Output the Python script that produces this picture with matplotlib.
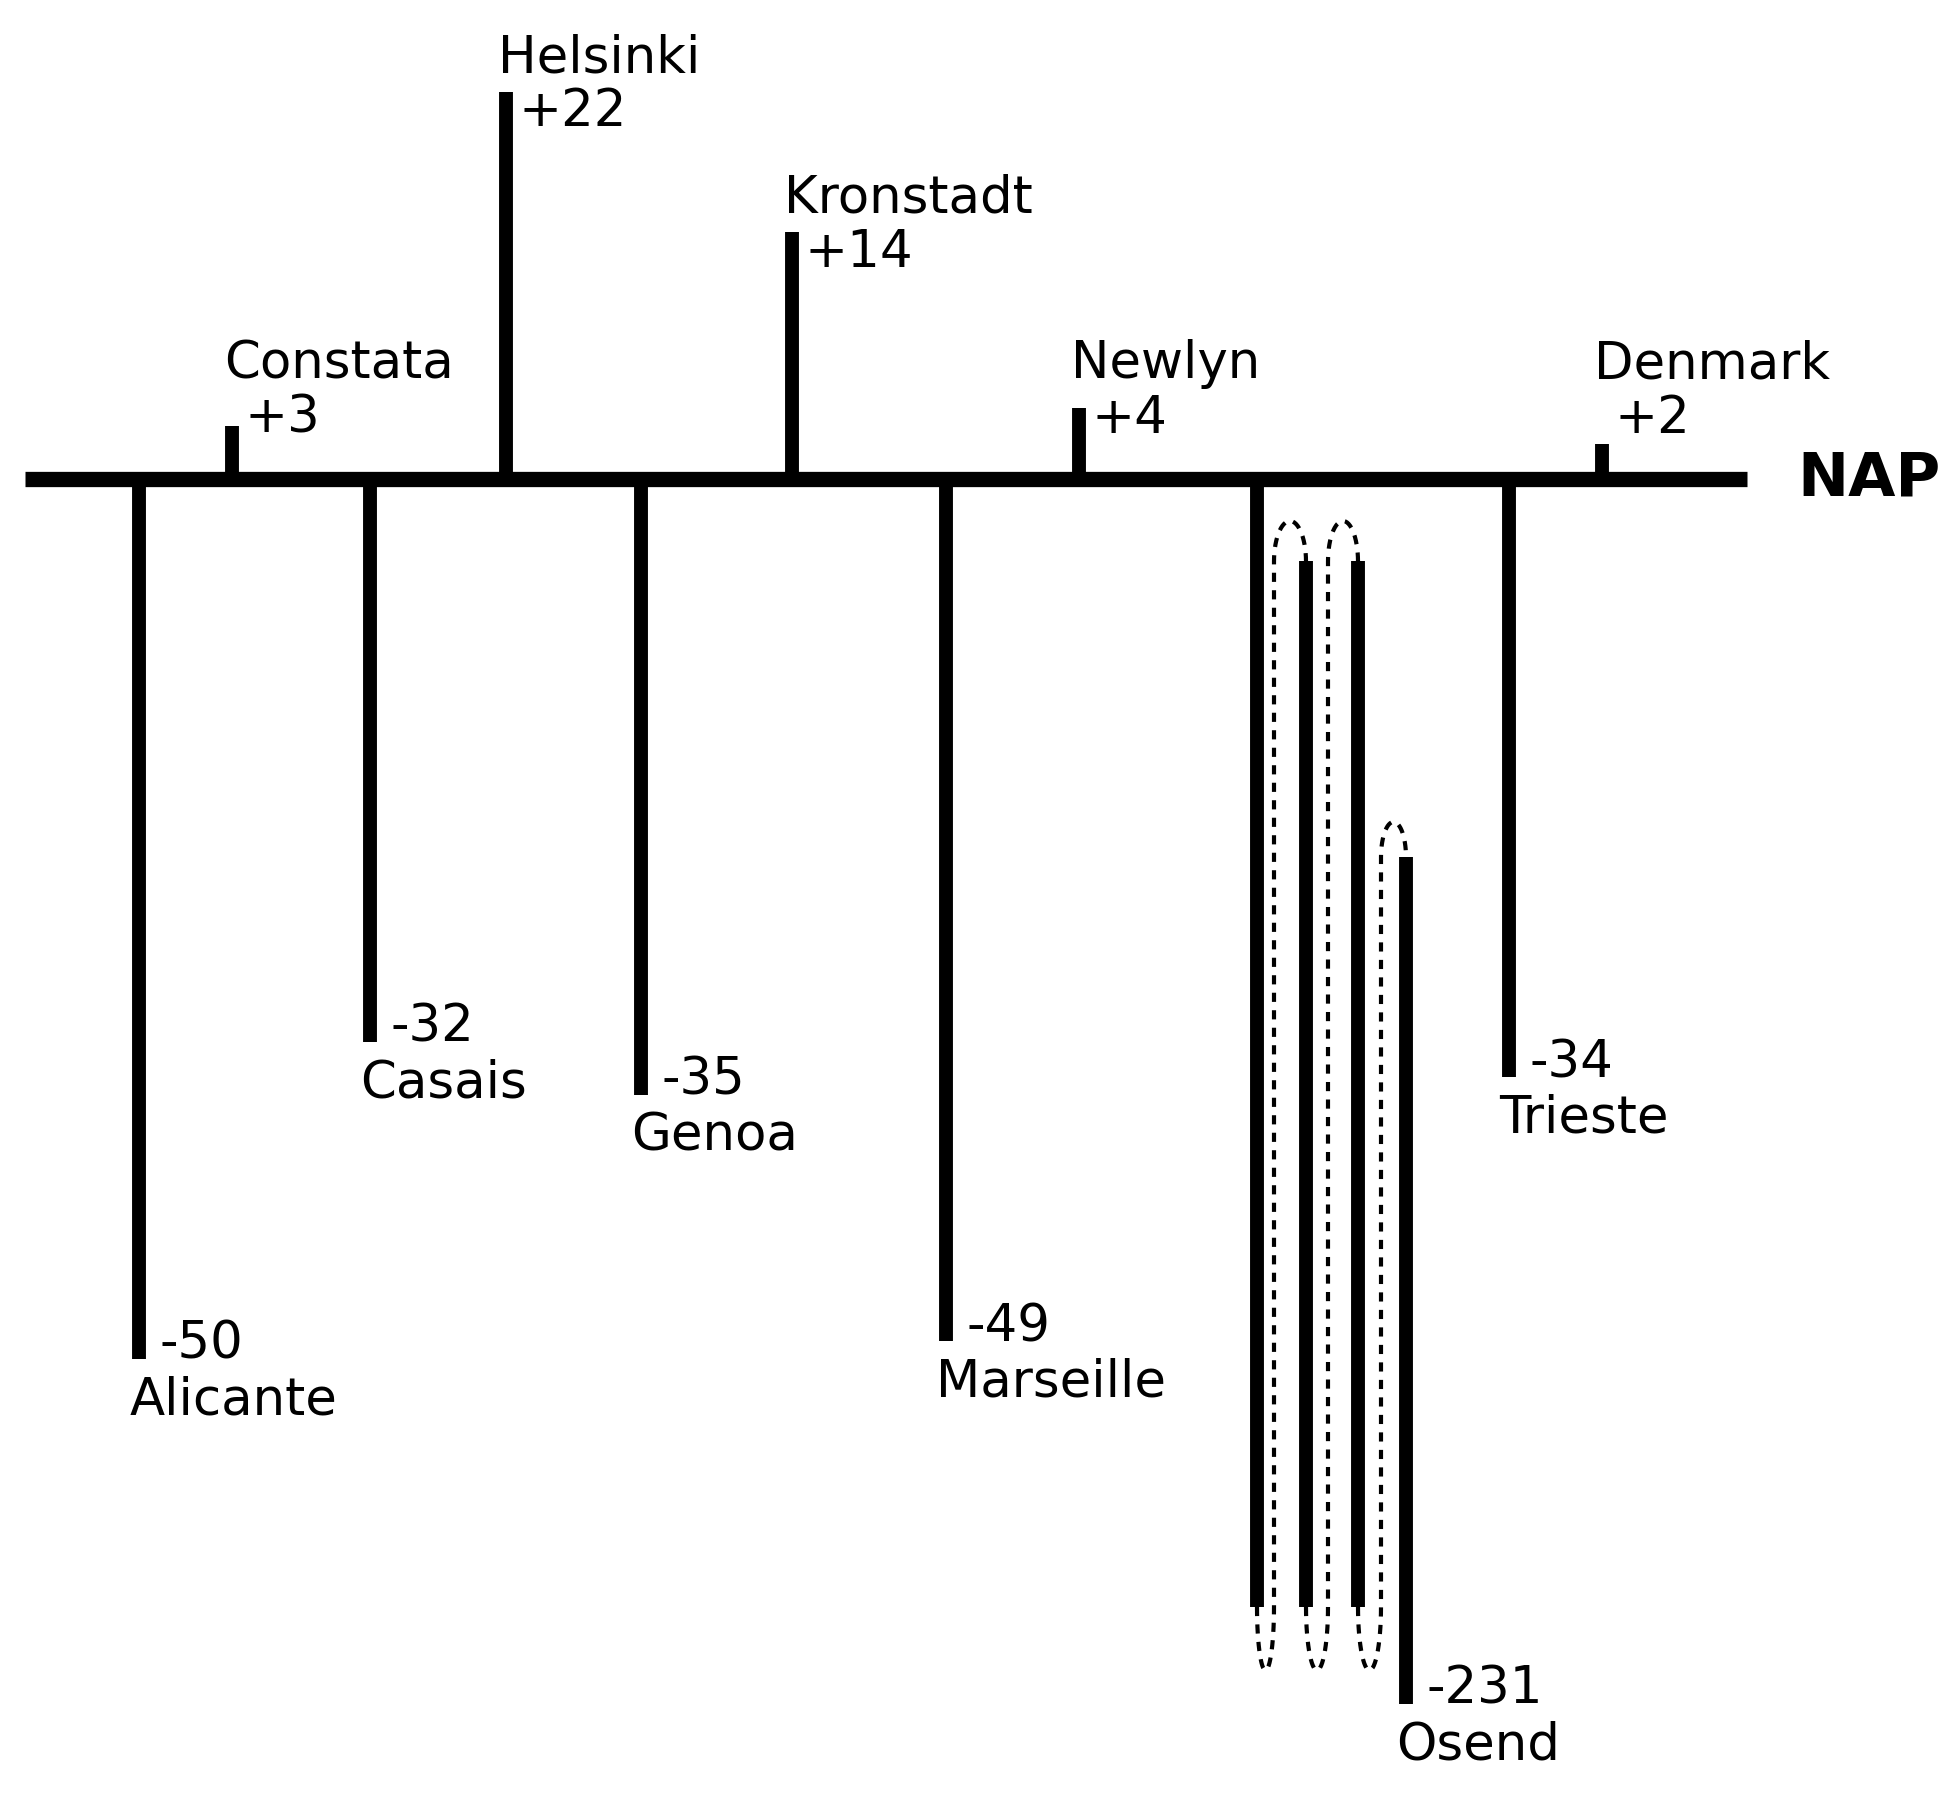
import numpy as np
import matplotlib
matplotlib.use('Agg')
import matplotlib.pyplot as plt

plt.rcParams['font.family'] = ['DejaVu Sans']

# stations, left to right, with their offset from NAP (cm)
names = ['Alicante', 'Constata', 'Casais', 'Helsinki', 'Genoa', 'Kronstadt',
         'Marseille', 'Newlyn', 'Osend', 'Trieste', 'Denmark']
values = [-50, 3, -32, 22, -35, 14, -49, 4, -231, -34, 2]

# layout (horizontal position of each stick, figure pixels)
x_pos = [139, 232, 370, 506, 641, 792, 946, 1079, 1257, 1509, 1602]

W, H = 1959, 1797
fig = plt.figure(figsize=(W / 100, H / 100), dpi=100)
ax = fig.add_axes([0, 0, 1, 1])
ax.set_xlim(0, W)
ax.set_ylim(-74.9, 27.2)
ax.axis('off')

lw = 10
fs = 37
min_label = 4.6   # keep labels of tiny sticks clear of the NAP line

# NAP reference line
ax.hlines(0, 25, 1747, color='black', lw=11, capstyle='butt')
ax.text(1797, 0, 'NAP', fontsize=44, fontweight='bold', va='center', ha='left')

# folding layout for the long Osend stick
fold_bottom = -64.1
fold_top = -4.7
last_top = -21.5
fold_dx = [0, 49, 101, 149]


def dashed_fold(x1, x2, xd, top, peak, bottom):
    # little loop showing where the stick is folded back
    t = np.linspace(np.pi, 2 * np.pi, 30)
    bx = (x1 + xd) / 2 + (xd - x1) / 2 * np.cos(t)
    by = bottom + 3.6 * np.sin(t)
    t2 = np.linspace(np.pi, 0, 30)
    cx = (xd + x2) / 2 + (x2 - xd) / 2 * np.cos(t2)
    cy = top + (peak - top) * np.sin(t2)
    xs = np.concatenate([bx, [xd, xd], cx])
    ys = np.concatenate([by, [bottom, top], cy])
    ax.plot(xs, ys, color='black', lw=3, linestyle=(0, (2.2, 2)))


for name, v, x in zip(names, values, x_pos):
    if v > 0:
        ax.vlines(x, 0, v, color='black', lw=lw, capstyle='butt')
        ly = max(v, min_label)
        ax.annotate('+%d' % v, (x, ly), xytext=(9, 3), textcoords='offset points',
                    fontsize=fs, ha='left', va='top')
        ax.annotate(name, (x, ly), xytext=(-6, 14), textcoords='offset points',
                    fontsize=fs, ha='left', va='baseline')
        continue
    if v < -100:
        # fold the stick so it fits the page
        xs = [x + d for d in fold_dx]
        tops = [0, fold_top, fold_top, last_top]
        used = 0
        for i in range(3):
            ax.vlines(xs[i], tops[i], fold_bottom, color='black', lw=lw, capstyle='butt')
            used += tops[i] - fold_bottom
        end = last_top - (abs(v) - used)
        ax.vlines(xs[3], last_top, end, color='black', lw=lw, capstyle='butt')
        dashed_fold(xs[0], xs[1], xs[0] + 17, fold_top, -2.4, fold_bottom)
        dashed_fold(xs[1], xs[2], xs[1] + 22, fold_top, -2.4, fold_bottom)
        dashed_fold(xs[2], xs[3], xs[2] + 23, last_top, -19.5, fold_bottom)
        x, bot = xs[3], end
    else:
        ax.vlines(x, 0, v, color='black', lw=lw, capstyle='butt')
        bot = v
    ax.annotate('%d' % v, (x, bot), xytext=(15, 0), textcoords='offset points',
                fontsize=fs, ha='left', va='baseline')
    ax.annotate(name, (x, bot), xytext=(-7, -12), textcoords='offset points',
                fontsize=fs, ha='left', va='top')

fig.savefig('out.png', dpi=100, facecolor='white')
